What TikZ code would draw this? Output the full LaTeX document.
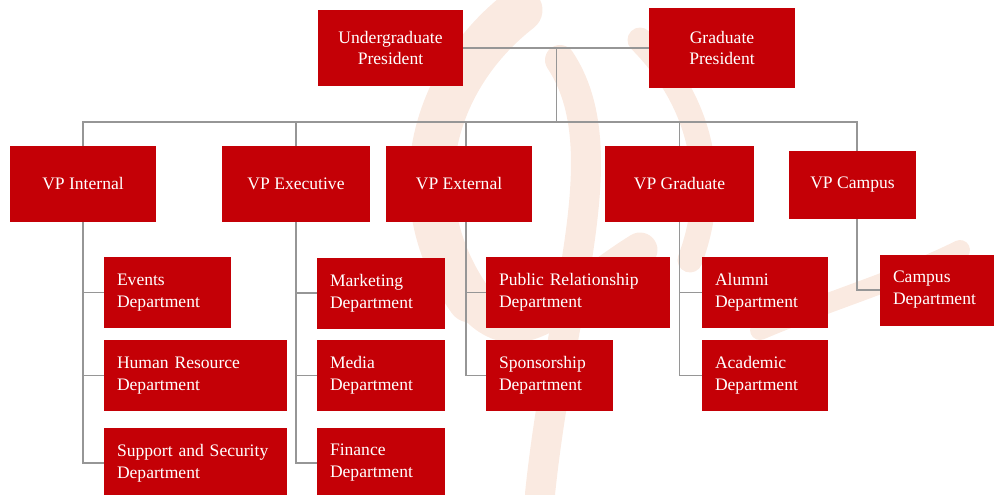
\documentclass[tikz,border=0pt]{standalone}
\usepackage{fontspec}
\setmainfont{Liberation Serif}
\usepackage{tikz}
\usetikzlibrary{calc}
\usetikzlibrary{positioning}

\definecolor{boxred}{RGB}{196,0,6}
\definecolor{linegray}{RGB}{150,150,150}
\definecolor{markpeach}{RGB}{250,234,225}

\tikzset{
  box/.style={rectangle, fill=boxred, text=white, inner sep=0pt,
    font=\fontsize{10}{12.5}\selectfont},
  head/.style={box, align=center, minimum width=#1, minimum height=15.2mm},
  dept/.style={box, align=left, text width=#1, inner xsep=2.6mm, minimum height=14.2mm},
  link/.style={draw=linegray, line width=0.6pt}
}

\begin{document}
\begin{tikzpicture}[x=0.2mm, y=-0.2mm, line cap=rect, line join=miter]

  \useasboundingbox (0,0) rectangle (994,494);

  %--------------------------
  % Faint logo behind the chart
  %--------------------------
  \begin{scope}[draw=markpeach, line cap=round]
    \draw[line width=9mm] (520,10) .. controls (430,80) and (400,200) .. (470,300);
    \draw[line width=7mm] (470,300) .. controls (520,360) and (560,300) .. (640,250);
    \draw[line width=6mm] (560,60) .. controls (620,150) and (560,300) .. (540,494);
    \draw[line width=5mm] (640,40) .. controls (700,100) and (720,180) .. (690,260);
    \draw[line width=4mm] (760,330) .. controls (830,300) and (900,280) .. (960,250);
  \end{scope}

  %--------------------------
  % Presidents
  %--------------------------
  \node[head=29mm] (ug) at (390.5,48) {Undergraduate\\President};
  \node[head=29.2mm, minimum height=16mm] (grad) at (722,48) {Graduate\\President};

  %--------------------------
  % Vice presidents
  %--------------------------
  \node[head=29.2mm] (vpint) at (83,184) {VP Internal};
  \node[head=29.6mm] (vpexe) at (296,184) {VP Executive};
  \node[head=29.2mm] (vpext) at (459,184) {VP External};
  \node[head=29.8mm] (vpgrad) at (679.5,184) {VP Graduate};
  \node[head=25.4mm, minimum height=13.6mm] (vpcam) at (852.5,185) {VP Campus};

  %--------------------------
  % Departments
  %--------------------------
  \node[dept=20.2mm] (events) at (167.5,292.5) {Events\\Department};
  \node[dept=31.4mm] (hr) at (195.5,375.5) {Human Resource\\Department};
  \node[dept=31.4mm] (support) at (195.5,463) {Support and Security\\Department};

  \node[dept=20.4mm] (marketing) at (381,293) {Marketing\\Department};
  \node[dept=20.4mm] (media) at (381,375.5) {Media\\Department};
  \node[dept=20.4mm] (finance) at (381,463) {Finance\\Department};

  \node[dept=31.6mm] (pr) at (578,292.5) {Public Relationship\\Department};
  \node[dept=20.2mm] (spons) at (549.5,375.5) {Sponsorship\\Department};

  \node[dept=20mm] (alumni) at (765,292.5) {Alumni\\Department};
  \node[dept=20mm] (academic) at (765,375.5) {Academic\\Department};

  \node[dept=18.8mm] (campus) at (940,290) {Campus\\Department};

  %--------------------------
  % Connectors
  %--------------------------
  \coordinate (bus) at (557,122);
  \coordinate (extdrop) at ([xshift=1.4mm]vpext.south);
  \coordinate (camdrop) at ([xshift=0.9mm]vpcam.south);

  \draw[link] (ug.east) -- coordinate[pos=0.503] (pmid) (grad.west);
  \draw[link] (pmid) -- (pmid |- bus);
  \draw[link] (vpint.north |- bus) -- (camdrop |- bus);
  \draw[link] (vpint.north |- bus) -- (vpint.north);
  \draw[link] (vpexe.north |- bus) -- (vpexe.north);
  \draw[link] (extdrop |- bus) -- (extdrop |- vpext.north);
  \draw[link] (vpgrad.north |- bus) -- (vpgrad.north);
  \draw[link] (camdrop |- bus) -- (camdrop |- vpcam.north);

  % VP Internal
  \draw[link] (vpint.south) -- (vpint.south |- support.west) -- (support.west);
  \draw[link] (vpint.south |- events.west) -- (events.west);
  \draw[link] (vpint.south |- hr.west) -- (hr.west);

  % VP Executive
  \draw[link] (vpexe.south) -- (vpexe.south |- finance.west) -- (finance.west);
  \draw[link] (vpexe.south |- marketing.west) -- (marketing.west);
  \draw[link] (vpexe.south |- media.west) -- (media.west);

  % VP External
  \draw[link] (extdrop) -- (extdrop |- spons.west) -- (spons.west);
  \draw[link] (extdrop |- pr.west) -- (pr.west);

  % VP Graduate
  \draw[link] (vpgrad.south) -- (vpgrad.south |- academic.west) -- (academic.west);
  \draw[link] (vpgrad.south |- alumni.west) -- (alumni.west);

  % VP Campus
  \draw[link] (camdrop) -- (camdrop |- campus.west) -- (campus.west);

\end{tikzpicture}
\end{document}
